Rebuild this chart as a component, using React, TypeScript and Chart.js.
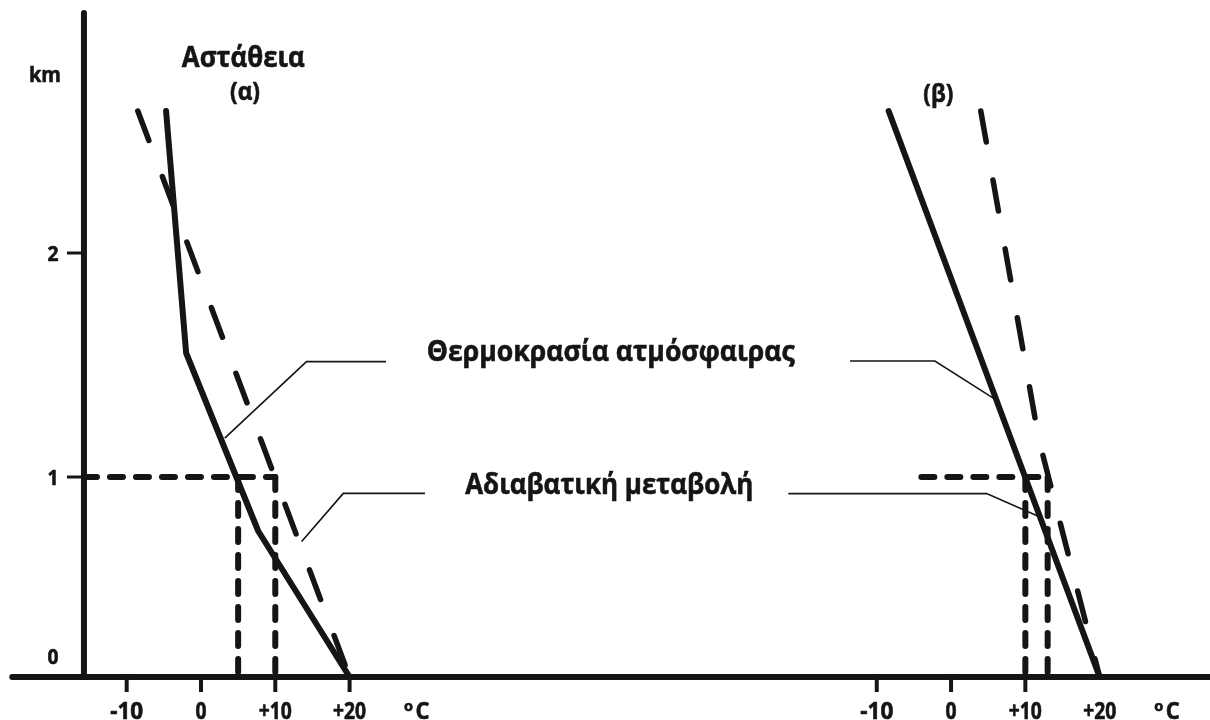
import React, { useEffect, useRef } from 'react';
import { Chart, registerables } from 'chart.js';

Chart.register(...registerables);

// ---------- data (temperature °C, height in figure-km units) ----------
// Panel (α): unstable
const ENV_A_TEMP = [-4.7, -2.0, 7.7, 20];
const ENV_A_HEIGHT = [2.83, 1.62, 0.73, 0];
const ADIAB_A_TEMP = [-8.5, 20];
const ADIAB_A_HEIGHT = [2.83, 0];
// Panel (β)
const ENV_B_TEMP = [-8.4, 20];
const ENV_B_HEIGHT = [2.83, 0];
const ADIAB_B_TEMP = [4.0, 11.8, 20];
const ADIAB_B_HEIGHT = [2.83, 1.19, 0];

// guide lines at 1 km
const GUIDE_LEVEL = 1;
const GUIDE_A_FROM = -15.75; // starts at the y-axis
const GUIDE_A_TO = 10;
const GUIDE_A_VERTICALS = [5, 10];
const GUIDE_B_FROM = -4;
const GUIDE_B_TO = 13;
const GUIDE_B_VERTICALS = [10, 13];

// leader lines (temp, height)
const LEADER_ENV_A_TEMP = [3.2, 14.2, 24.9];
const LEADER_ENV_A_HEIGHT = [1.194, 1.577, 1.577];
const LEADER_AD_A_TEMP = [13.55, 19.15, 30.15];
const LEADER_AD_A_HEIGHT = [0.677, 0.918, 0.918];
const LEADER_ENV_B_TEMP = [5.68, -2.17, -13.6];
const LEADER_ENV_B_HEIGHT = [1.394, 1.58, 1.58];
const LEADER_AD_B_TEMP = [11.97, 4.79, -21.9];
const LEADER_AD_B_HEIGHT = [0.8, 0.917, 0.917];

// axes
const X_TICKS = [-10, 0, 10, 20];
const X_TICK_LABELS = ['-10', '0', '+10', '+20'];
const X_TICK_MARKS_A = [-10, 0, 10, 20];
const X_TICK_MARKS_B = [-10, 0, 10];
const Y_TICK_VALUES = [0, 1, 2.12];
const Y_TICK_LABELS = ['0', '1', '2'];
const Y_AXIS_AT = -15.75;
const Y_AXIS_TOP = 3.32;
const X_AXIS_START = -25.4;

const TITLE_A = 'Αστάθεια';
const SUB_A = '(α)';
const SUB_B = '(β)';
const LABEL_ENV = 'Θερμοκρασία ατμόσφαιρας';
const LABEL_AD = 'Αδιαβατική μεταβολή';
const Y_UNIT = 'km';
const X_UNIT = 'C';

const INK = '#151515';
const FONT = '"Open Sans", "Noto Sans", sans-serif';

function pts(xs: number[], ys: number[]) {
  return xs.map((x, i) => ({ x, y: ys[i] }));
}

function fitText(ctx: CanvasRenderingContext2D, s: string, cx: number, baseY: number, size: number, width?: number) {
  ctx.font = `bold ${size}px ${FONT}`;
  ctx.textAlign = 'center';
  ctx.textBaseline = 'alphabetic';
  const w = ctx.measureText(s).width;
  ctx.save();
  ctx.translate(cx, baseY);
  if (width) ctx.scale(width / w, 1);
  ctx.lineWidth = 0.6;
  ctx.lineJoin = 'round';
  ctx.fillText(s, 0, 0);
  ctx.strokeText(s, 0, 0);
  ctx.restore();
}

const diagramPlugin = {
  id: 'diagram',
  afterDatasetsDraw(chart: any) {
    const ctx: CanvasRenderingContext2D = chart.ctx;
    const xa = chart.scales.x;
    const xb = chart.scales.x2;
    const y = chart.scales.y;
    ctx.save();
    ctx.strokeStyle = INK;
    ctx.fillStyle = INK;

    const y0 = y.getPixelForValue(0);
    const yx = xa.getPixelForValue(Y_AXIS_AT);

    // axes
    ctx.lineWidth = 6;
    ctx.lineCap = 'round';
    ctx.beginPath();
    ctx.moveTo(xa.getPixelForValue(X_AXIS_START), y0);
    ctx.lineTo(chart.width + 10, y0);
    ctx.stroke();
    ctx.beginPath();
    ctx.moveTo(yx, y0);
    ctx.lineTo(yx, y.getPixelForValue(Y_AXIS_TOP));
    ctx.stroke();

    // y ticks + labels
    ctx.lineCap = 'butt';
    Y_TICK_VALUES.forEach((v, i) => {
      const py = y.getPixelForValue(v);
      if (v > 0) {
        ctx.lineWidth = 3;
        ctx.beginPath();
        ctx.moveTo(yx - 17, py);
        ctx.lineTo(yx, py);
        ctx.stroke();
        fitText(ctx, Y_TICK_LABELS[i], yx - 31, py + 7.5, 21, 11);
      } else {
        fitText(ctx, Y_TICK_LABELS[i], yx - 31, py - 13.5, 21, 11);
      }
    });
    fitText(ctx, Y_UNIT, yx - 39, y.getPixelForValue(Y_AXIS_TOP) + 69, 21, 32);

    // x ticks + labels
    const drawX = (sc: any, marks: number[]) => {
      marks.forEach((v) => {
        const px = sc.getPixelForValue(v);
        ctx.lineWidth = 4;
        ctx.beginPath();
        ctx.moveTo(px, y0 + 2);
        ctx.lineTo(px, y0 + 15);
        ctx.stroke();
      });
      X_TICKS.forEach((v, i) => {
        const w = X_TICK_LABELS[i].length === 1 ? 11 : X_TICK_LABELS[i].length === 2 ? 24 : 33;
        fitText(ctx, X_TICK_LABELS[i], sc.getPixelForValue(v), y0 + 41.5, 23, w);
      });
      const up = sc.getPixelForValue(20);
      fitText(ctx, 'o', up + 59, y0 + 34, 15, 9);
      fitText(ctx, X_UNIT, up + 73, y0 + 41.5, 23, 14);
    };
    drawX(xa, X_TICK_MARKS_A);
    drawX(xb, X_TICK_MARKS_B);

    // titles
    fitText(ctx, TITLE_A, 243.3, 66.7, 28, 123);
    fitText(ctx, SUB_A, 245, 100, 25, 30);
    fitText(ctx, SUB_B, 938.3, 102, 25, 30);

    // labels
    fitText(ctx, LABEL_ENV, 610.8, 360.5, 29, 368);
    fitText(ctx, LABEL_AD, 609.2, 493.5, 29, 288);

    ctx.restore();
  },
};

export default function App() {
  const ref = useRef<HTMLCanvasElement | null>(null);

  useEffect(() => {
    document.body.style.margin = '0';
    const canvas = ref.current;
    if (!canvas) return;

    const thick = (data: any[], axis: string, dash?: number[], width = 6) => ({
      data,
      xAxisID: axis,
      yAxisID: 'y',
      borderColor: INK,
      borderWidth: width,
      borderDash: dash || [],
      borderCapStyle: 'round',
      borderJoinStyle: 'round',
      pointRadius: 0,
      pointHoverRadius: 0,
      fill: false,
      tension: 0,
    });
    const thin = (data: any[], axis: string) => ({
      data,
      xAxisID: axis,
      yAxisID: 'y',
      borderColor: INK,
      borderWidth: 1.6,
      borderCapStyle: 'butt',
      borderJoinStyle: 'miter',
      pointRadius: 0,
      pointHoverRadius: 0,
      fill: false,
      tension: 0,
    });
    const LONG = [31.5, 38.5];
    const SHORT = [13, 13];

    const datasets: any[] = [
      thick(pts(ENV_A_TEMP, ENV_A_HEIGHT), 'x'),
      thick(pts(ADIAB_A_TEMP, ADIAB_A_HEIGHT), 'x', LONG, 5.5),
      thick(pts(ENV_B_TEMP, ENV_B_HEIGHT), 'x2'),
      thick(pts(ADIAB_B_TEMP, ADIAB_B_HEIGHT), 'x2', LONG, 5.5),
      thick(pts([GUIDE_A_FROM, GUIDE_A_TO], [GUIDE_LEVEL, GUIDE_LEVEL]), 'x', SHORT),
      thick(pts([GUIDE_B_FROM, GUIDE_B_TO], [GUIDE_LEVEL, GUIDE_LEVEL]), 'x2', SHORT),
      ...GUIDE_A_VERTICALS.map((v) => thick(pts([v, v], [GUIDE_LEVEL, 0]), 'x', SHORT)),
      ...GUIDE_B_VERTICALS.map((v) => thick(pts([v, v], [GUIDE_LEVEL, 0]), 'x2', SHORT)),
      thin(pts(LEADER_ENV_A_TEMP, LEADER_ENV_A_HEIGHT), 'x'),
      thin(pts(LEADER_AD_A_TEMP, LEADER_AD_A_HEIGHT), 'x'),
      thin(pts(LEADER_ENV_B_TEMP, LEADER_ENV_B_HEIGHT), 'x2'),
      thin(pts(LEADER_AD_B_TEMP, LEADER_AD_B_HEIGHT), 'x2'),
    ];

    const chart = new Chart(canvas, {
      type: 'line',
      data: { datasets },
      options: {
        animation: false,
        responsive: false,
        devicePixelRatio: 1,
        layout: { padding: 0 },
        plugins: { legend: { display: false }, tooltip: { enabled: false }, title: { display: false } },
        events: [],
        scales: {
          x: { type: 'linear', min: -27.05, max: 135.8, display: false },
          x2: { type: 'linear', min: -128.0, max: 34.85, display: false },
          y: { type: 'linear', min: -0.215, max: 3.385, display: false },
        },
      } as any,
      plugins: [diagramPlugin],
    } as any);

    return () => chart.destroy();
  }, []);

  return (
    <div style={{ width: 1210, height: 720, background: '#fff' }}>
      <canvas ref={ref} width={1210} height={720} style={{ display: 'block' }} />
    </div>
  );
}
